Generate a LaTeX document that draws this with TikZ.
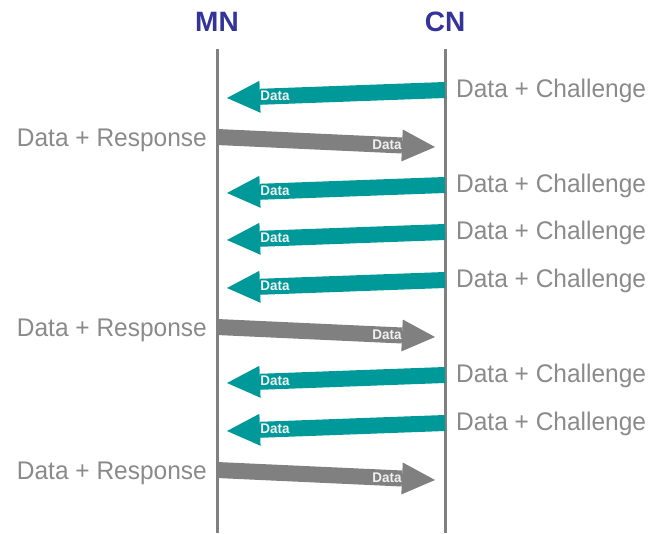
\documentclass[tikz,border=0pt]{standalone}
\usepackage{fontspec}
\usepackage{xcolor}
\usepackage{tikz}
\usetikzlibrary{arrows.meta,positioning}

\newfontfamily\msgfont[FakeStretch=0.96]{Liberation Sans}
\newfontfamily\hostfont{Liberation Sans}
\definecolor{hostblue}{HTML}{333399}
\definecolor{chalteal}{HTML}{009999}
\definecolor{respgray}{HTML}{808080}
\definecolor{labelgray}{HTML}{8A8A8A}

\begin{document}
\begin{tikzpicture}[
    x=1pt, y=-1pt,
    host/.style={font=\hostfont\fontsize{28}{28}\selectfont\bfseries, text=hostblue},
    lifeline/.style={draw=respgray, line width=3pt},
    msg/.style={font=\msgfont\fontsize{25.5}{26}\selectfont, text=labelgray, inner sep=0pt},
    fat/.style={line width=16pt, -{Triangle[length=33pt,width=32pt,line width=0pt]}},
    toMN/.style={fat, draw=chalteal},
    toCN/.style={fat, draw=respgray},
    tag/.style={font=\msgfont\fontsize{14}{14}\selectfont\bfseries, text=white!88!gray, inner sep=0pt}
]
\useasboundingbox (0,0) rectangle (648,533);

% hosts and their lifelines
\node [host] (MN) at (217,22) {MN};
\node [host] (CN) at (445,22) {CN};
\coordinate (MNtop) at (217,49);
\coordinate (MNbot) at (217,533);
\coordinate (CNtop) at (445,49);
\coordinate (CNbot) at (445,533);
\draw [lifeline] (MNtop) -- (MNbot);
\draw [lifeline] (CNtop) -- (CNbot);

% CN -> MN : data + challenge
\coordinate (c1) at (445,90);  \coordinate (m1) at (227,98);
\coordinate (c2) at (445,185); \coordinate (m2) at (227,193);
\coordinate (c3) at (445,232); \coordinate (m3) at (227,240);
\coordinate (c4) at (445,280); \coordinate (m4) at (227,288);
\coordinate (c5) at (445,375); \coordinate (m5) at (227,383);
\coordinate (c6) at (445,423); \coordinate (m6) at (227,431);

\draw [toMN] (c1) -- node[tag, pos=0.78] {Data} (m1);
\draw [toMN] (c2) -- node[tag, pos=0.78] {Data} (m2);
\draw [toMN] (c3) -- node[tag, pos=0.78] {Data} (m3);
\draw [toMN] (c4) -- node[tag, pos=0.78] {Data} (m4);
\draw [toMN] (c5) -- node[tag, pos=0.78] {Data} (m5);
\draw [toMN] (c6) -- node[tag, pos=0.78] {Data} (m6);

\node [msg, anchor=base west] (ch1) at (456,97)  {Data + Challenge};
\node [msg, anchor=base west] (ch2) at (456,192) {Data + Challenge};
\node [msg, anchor=base west] (ch3) at (456,239) {Data + Challenge};
\node [msg, anchor=base west] (ch4) at (456,287) {Data + Challenge};
\node [msg, anchor=base west] (ch5) at (456,382) {Data + Challenge};
\node [msg, anchor=base west] (ch6) at (456,430) {Data + Challenge};

% MN -> CN : data + response
\coordinate (r1) at (217,137); \coordinate (t1) at (435,147);
\coordinate (r2) at (217,327); \coordinate (t2) at (435,337);
\coordinate (r3) at (217,470); \coordinate (t3) at (435,480);

\draw [toCN] (r1) -- node[tag, pos=0.78] {Data} (t1);
\draw [toCN] (r2) -- node[tag, pos=0.78] {Data} (t2);
\draw [toCN] (r3) -- node[tag, pos=0.78] {Data} (t3);

\node [msg, anchor=base east] (rs1) at (207,146) {Data + Response};
\node [msg, anchor=base east] (rs2) at (207,336) {Data + Response};
\node [msg, anchor=base east] (rs3) at (207,479) {Data + Response};

\end{tikzpicture}
\end{document}
